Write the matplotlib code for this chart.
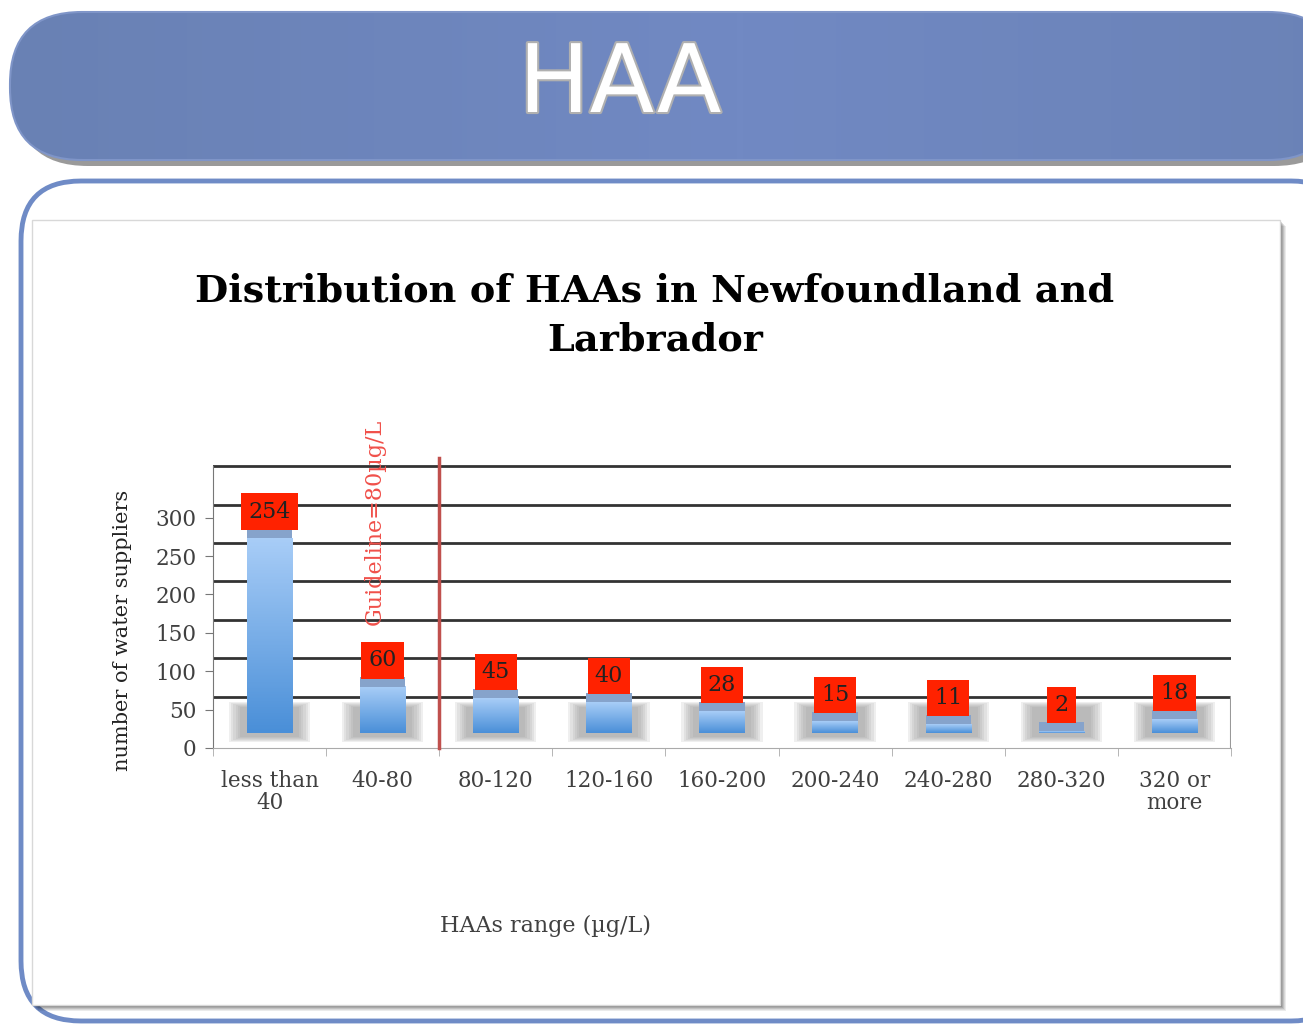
import numpy as np
import matplotlib
matplotlib.use('Agg')
from matplotlib import pyplot as plt
from matplotlib.patches import FancyBboxPatch, Rectangle
from matplotlib.colors import LinearSegmentedColormap
import matplotlib.patheffects as pe

# 数据
categories = ['less than\n40', '40-80', '80-120', '120-160', '160-200',
              '200-240', '240-280', '280-320', '320 or\nmore']
values = [254, 60, 45, 40, 28, 15, 11, 2, 18]
y_ticks = [0, 50, 100, 150, 200, 250, 300]
guideline_pos = 1.5
guideline_text = 'Guideline=80µg/L'

W, H = 1303, 1029
fig = plt.figure(figsize=(W / 100, H / 100), dpi=100)
fig.patch.set_facecolor('white')

# 背景装饰 (像素坐标)
bg = fig.add_axes([0, 0, 1, 1], zorder=0)
bg.set_xlim(0, W)
bg.set_ylim(H, 0)
bg.axis('off')

# 顶部横幅
bg.add_patch(FancyBboxPatch((16, 18), 1330, 148, boxstyle='round,pad=0,rounding_size=72',
                            facecolor='#9a9a9a', edgecolor='none', zorder=1))
banner = FancyBboxPatch((10, 12), 1330, 148, boxstyle='round,pad=0,rounding_size=72',
                        facecolor='none', edgecolor='#7f95c8', lw=1.5, zorder=3)
bg.add_patch(banner)
grad = np.linspace(0, 1, 256)
grad = 1 - np.abs(grad - 0.55) * 1.6
banner_cmap = LinearSegmentedColormap.from_list('banner', ['#6880b2', '#7189c3'])
im = bg.imshow(grad[np.newaxis, :], extent=[10, 1340, 160, 12], cmap=banner_cmap,
               aspect='auto', zorder=2, vmin=0, vmax=1)
im.set_clip_path(banner)
bg.text(620, 86, 'HAA', fontsize=68, color='white', ha='center', va='center',
        family='DejaVu Sans', zorder=4,
        path_effects=[pe.withStroke(linewidth=3, foreground='#b0b0b0')])
bg.set_xlim(0, W)
bg.set_ylim(H, 0)

# 外框
bg.add_patch(FancyBboxPatch((21, 181), 1330, 840, boxstyle='round,pad=0,rounding_size=60',
                            facecolor='white', edgecolor='#6f8bc6', lw=3.5, zorder=2))

# 图表面板及阴影
for i, a in enumerate([0.08, 0.08, 0.1, 0.12, 0.15]):
    d = 6 - i
    bg.add_patch(Rectangle((32 + d, 220 + d), 1248, 785, facecolor='black',
                           alpha=a, edgecolor='none', zorder=3))
bg.add_patch(Rectangle((32, 220), 1248, 785, facecolor='white',
                       edgecolor='#d8d8d8', lw=1, zorder=4))

# 标题
fig.text(655 / W, 1 - 291 / H, 'Distribution of HAAs in Newfoundland and',
         fontsize=27.5, fontweight='bold', family='DejaVu Serif', ha='center', va='center')
fig.text(655 / W, 1 - 340 / H, 'Larbrador',
         fontsize=27.5, fontweight='bold', family='DejaVu Serif', ha='center', va='center')

# 主图
ax = fig.add_axes([213 / W, 1 - 748 / H, (1231 - 213) / W, (748 - 464) / H], zorder=2)
ax.patch.set_alpha(0)
ax.set_xlim(-0.5, 8.5)
ax.set_ylim(0, 370)

base = 20
top_face = 12
shift = 17
# 背墙网格线
for t in y_ticks[1:] + [350]:
    ax.axhline(t + shift, color='#333333', lw=2, zorder=1)
ax.plot([8.5, 8.5], [0, 50 + shift], color='#999999', lw=1.5, zorder=1)

bar_cmap = LinearSegmentedColormap.from_list('bar', ['#4a8fd8', '#a8cdf7'])
x = np.arange(len(values))
for xi, v in zip(x, values):
    # 阴影
    for k in range(6):
        grow = 0.04 * (5 - k)
        ax.add_patch(Rectangle((xi - 0.26 - grow / 2, 14 - grow * 30),
                               0.52 + grow, 40 + grow * 60, facecolor='#909090',
                               alpha=0.14, edgecolor='none', zorder=2))
    # 柱体
    gimg = np.linspace(0, 1, 100)[:, np.newaxis]
    ax.imshow(gimg, extent=[xi - 0.2, xi + 0.2, base, base + v], origin='lower',
              cmap=bar_cmap, aspect='auto', zorder=3)
    ax.add_patch(Rectangle((xi - 0.2, base + v), 0.4, top_face,
                           facecolor='#86a3cb', edgecolor='none', zorder=3))
    # 数据标签
    ax.text(xi, base + v + top_face + 22, str(v), ha='center', va='center',
            fontsize=16, family='DejaVu Serif', color='#222222', zorder=5,
            bbox=dict(boxstyle='square,pad=0.32', facecolor='#ff2200', edgecolor='none'))
ax.set_xlim(-0.5, 8.5)
ax.set_ylim(0, 370)

# 指导线
ax.plot([guideline_pos, guideline_pos], [0, 378], color='#c0504d', lw=2.5,
        zorder=4, clip_on=False)
ax.text(0.93, 160, guideline_text, rotation=90, ha='center', va='bottom',
        fontsize=16, family='DejaVu Serif', color='#f0504a', zorder=5)

# 坐标轴
for s in ['top', 'right']:
    ax.spines[s].set_visible(False)
ax.spines['left'].set_color('#777777')
ax.spines['left'].set_bounds(0, 367)
ax.spines['bottom'].set_color('#aaaaaa')
ax.set_yticks(y_ticks)
ax.set_yticklabels([str(t) for t in y_ticks], fontsize=15.5, family='DejaVu Serif',
                   color='#404040')
ax.set_xticks(x)
ax.set_xticklabels(categories, fontsize=15.5, family='DejaVu Serif', color='#404040',
                   linespacing=1.0)
ax.set_xticks(np.arange(-0.5, 9, 1), minor=True)
ax.tick_params(axis='x', which='major', length=0, pad=16)
ax.tick_params(axis='x', which='minor', length=6, color='#aaaaaa')
ax.tick_params(axis='y', length=6, color='#777777', pad=6)

fig.text(123 / W, 1 - 630 / H, 'number of water suppliers', rotation=90,
         fontsize=15, family='DejaVu Serif', color='#222222', ha='center', va='center')
fig.text(545 / W, 1 - 926 / H, 'HAAs range (µg/L)', fontsize=16,
         family='DejaVu Serif', color='#404040', ha='center', va='center')

plt.savefig('out.png', dpi=100)
